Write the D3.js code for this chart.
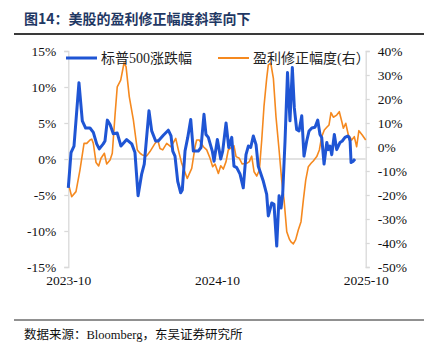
<!DOCTYPE html>
<html><head><meta charset="utf-8">
<script src="https://cdn.jsdelivr.net/npm/d3@7"></script>
<style>
html,body{margin:0;padding:0;background:#fff;}
svg{display:block;}
</style></head>
<body>
<svg id="chart" width="428" height="357"></svg>
<script>
// x positions are months since 2023-10
const xTickLabels = ["2023-10", "2024-10", "2025-10"];
const xTickMonths = [0, 12, 24];
const leftTicks = [15, 10, 5, 0, -5, -10, -15];
const rightTicks = [40, 30, 20, 10, 0, -10, -20, -30, -40, -50];

const spMonths = [0.00,0.22,0.46,0.86,1.13,1.40,1.75,2.02,2.29,2.50,2.82,2.96,3.15,3.37,3.63,3.95,4.25,4.71,5.12,5.38,5.63,5.92,6.13,6.51,6.73,7.05,7.26,7.67,8.07,8.29,8.43,8.61,8.83,9.07,9.20,9.42,9.64,9.88,10.09,10.49,10.71,10.95,11.11,11.30,11.62,11.76,12.03,12.30,12.46,12.73,12.95,13.19,13.37,13.59,13.86,14.12,14.34,14.53,14.72,14.93,15.15,15.33,15.47,15.74,16.01,16.14,16.42,16.60,16.82,17.01,17.17,17.30,17.49,17.69,17.89,18.08,18.24,18.43,18.62,18.84,19.02,19.24,19.43,19.65,19.91,20.13,20.31,20.45,20.64,20.86,20.99,21.12,21.26,21.47,21.66,21.93,22.11,22.33,22.55,22.66,22.74,22.82,23.00,23.14];
const spValues = [-4.0,0.9,1.8,10.6,5.3,4.3,4.3,3.7,2.1,1.4,2.1,2.5,5.4,4.8,3.5,3.6,1.8,2.7,2.1,0.9,-5.1,-2.1,-0.7,6.7,3.9,2.5,2.5,3.3,4.0,3.2,1.1,0.4,-3.1,-4.7,-4.3,1.1,3.0,5.5,1.1,1.1,1.6,6.2,3.4,3.0,1.1,-0.3,2.7,0.0,1.1,5.0,1.6,3.0,-1.0,-1.2,-2.1,-4.0,0.6,1.8,1.6,3.2,2.0,-1.0,-1.7,-3.1,-4.9,-7.9,-6.1,-6.3,-12.1,-5.1,-6.8,-4.9,2.5,12.0,5.3,12.7,7.1,4.1,3.9,6.0,0.4,2.5,3.9,4.3,4.4,5.4,3.4,3.0,-0.7,2.3,1.3,1.8,0.6,3.4,1.3,2.3,2.5,3.0,3.2,3.0,2.5,-0.5,-0.3,0.0];

const revMonths = [0.00,0.27,0.62,0.94,1.27,1.49,1.75,1.89,2.02,2.24,2.45,2.64,2.91,3.10,3.37,3.55,3.77,3.95,4.23,4.50,4.66,4.92,5.25,5.57,5.79,5.97,6.33,6.59,7.00,7.22,7.40,7.62,7.94,8.29,8.67,8.88,9.15,9.60,9.96,10.23,10.36,10.57,10.90,11.17,11.44,11.65,11.84,12.11,12.30,12.51,12.73,12.91,13.19,13.37,13.54,13.80,14.04,14.40,14.61,14.80,14.99,15.21,15.42,15.61,15.79,16.01,16.14,16.34,16.55,16.76,17.01,17.22,17.41,17.63,17.85,17.97,18.16,18.35,18.56,18.78,18.97,19.16,19.37,19.59,19.77,20.05,20.26,20.45,20.66,20.86,21.04,21.20,21.39,21.66,21.87,22.07,22.20,22.39,22.60,22.87,23.08,23.27,23.45,23.72,24.00];
const revValues = [-15,-20.7,-18.6,-9.6,1.5,1.5,2.9,3.3,1.5,-6.5,-7.9,-4.7,-2.6,-7.1,-5.4,-2.6,13.3,25.1,27.9,35.1,33.5,21,11.3,-1.25,-2.6,-3.3,-3.7,-1.9,1.5,2.9,-0.6,-1.2,1.5,0.1,3.6,-1.2,-6.8,-13.1,-8.9,0.1,2.9,2.9,0.1,-1.2,-4.7,-8.2,-7.1,-11,-7.8,-9.2,-6.1,-1.25,-0.1,0.5,-4.0,-4.7,-7.1,-6.8,-6.1,-3.8,-10.3,-12.1,-9.6,2.9,16.8,28.6,34.2,34.9,28.6,12.6,-1.25,-13.8,-22,-35.3,-38.5,-39.5,-40.4,-38.6,-34.6,-31.1,-22,-13.8,-8.2,-6.8,-5.8,-4.0,-1.25,4.3,7.1,8.2,9.2,14.3,12.4,13.3,14.7,10.6,7.8,9.9,5.0,2.9,4.3,0.1,6.8,5.0,2.9];

const seriesNames = ["标普500涨跌幅", "盈利修正幅度(右）"];
const titleText = "图14：美股的盈利修正幅度斜率向下";
const sourceText = "数据来源：Bloomberg，东吴证券研究所";

const svg = d3.select("#chart");
const blue = "#1f55d4", orange = "#f5891f";
const serif = "'Liberation Serif','Noto Sans CJK SC',serif";
const cjk = "'Noto Sans CJK SC','Liberation Serif',sans-serif";

const plotL = 68.3, plotR = 365.7, plotT = 51, plotB = 267;
const x = d3.scaleLinear().domain([0, 24]).range([plotL, plotR]);
const yL = d3.scaleLinear().domain([-15, 15]).range([plotB, plotT]);
const yR = d3.scaleLinear().domain([-50, 40]).range([plotB, plotT]);

// title
svg.append("text").attr("x", 24).attr("y", 24)
  .attr("font-family", cjk).attr("font-weight", "bold").attr("font-size", 14)
  .attr("fill", "#1f3864").text(titleText);
svg.append("line").attr("x1", 14).attr("x2", 424).attr("y1", 34).attr("y2", 34)
  .attr("stroke", "#3a3a3a").attr("stroke-width", 2);

// footer
svg.append("line").attr("x1", 14).attr("x2", 424).attr("y1", 320).attr("y2", 320)
  .attr("stroke", "#222").attr("stroke-width", 1);
svg.append("text").attr("x", 24).attr("y", 339)
  .attr("font-family", serif).attr("font-size", 12.5)
  .attr("fill", "#111").text(sourceText);

// axes
const axL = svg.append("g").attr("transform", `translate(${plotL},0)`)
  .call(d3.axisLeft(yL).tickValues(leftTicks).tickSize(4).tickFormat(d => d + "%"));
const axR = svg.append("g").attr("transform", `translate(${plotR},0)`)
  .call(d3.axisRight(yR).tickValues(rightTicks).tickSize(4).tickFormat(d => d + "%"));
[axL, axR].forEach(g => {
  g.select(".domain").attr("stroke", "#d9d9d9").attr("stroke-width", 1.3);
  g.selectAll(".tick line").attr("stroke", "#d9d9d9").attr("stroke-width", 1.3);
  g.selectAll(".tick text").attr("font-family", serif).attr("font-size", 13.5).attr("fill", "#111");
});
axL.selectAll(".tick text").attr("x", -12);
axR.selectAll(".tick text").attr("x", 12);

// zero line (left axis)
svg.append("line").attr("x1", plotL).attr("x2", plotR)
  .attr("y1", yL(0)).attr("y2", yL(0))
  .attr("stroke", "#d9d9d9").attr("stroke-width", 1.3);

// x labels
const axX = svg.append("g").attr("transform", `translate(0,${plotB})`)
  .call(d3.axisBottom(x).tickValues(xTickMonths).tickSize(0)
    .tickFormat((d, i) => xTickLabels[i]));
axX.select(".domain").remove();
axX.selectAll(".tick text").attr("font-family", serif).attr("font-size", 13.5)
  .attr("fill", "#111").attr("dy", "1.1em");

// lines
const spLine = d3.line().x((d, i) => x(spMonths[i])).y(d => yL(d));
const revLine = d3.line().x((d, i) => x(revMonths[i])).y(d => yR(d));
svg.append("path").datum(revValues).attr("d", revLine)
  .attr("fill", "none").attr("stroke", orange).attr("stroke-width", 1.6)
  .attr("stroke-linejoin", "round");
svg.append("path").datum(spValues).attr("d", spLine)
  .attr("fill", "none").attr("stroke", blue).attr("stroke-width", 3)
  .attr("stroke-linejoin", "round");

// legend
const legend = [
  {name: seriesNames[0], color: blue, w: 3, x: 66},
  {name: seriesNames[1], color: orange, w: 2, x: 218}
];
legend.forEach(l => {
  svg.append("line").attr("x1", l.x).attr("x2", l.x + 31).attr("y1", 58).attr("y2", 58)
    .attr("stroke", l.color).attr("stroke-width", l.w);
  svg.append("text").attr("x", l.x + 35).attr("y", 63)
    .attr("font-family", serif).attr("font-size", 14).attr("fill", "#222").text(l.name);
});
</script>
</body></html>
